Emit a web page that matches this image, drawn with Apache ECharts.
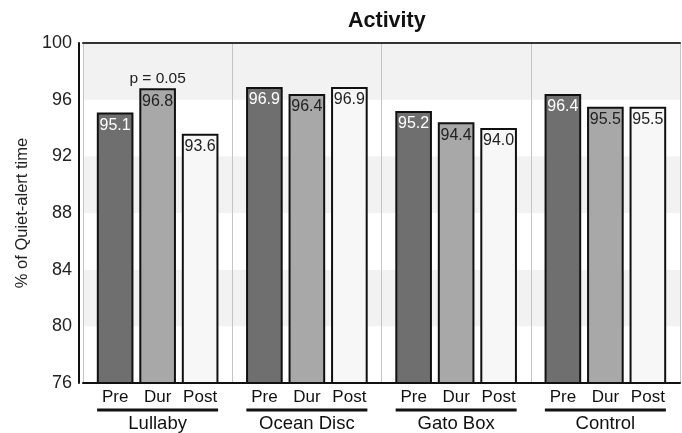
<!DOCTYPE html>
<html><head><meta charset="utf-8">
<script src="https://cdn.jsdelivr.net/npm/echarts@6/dist/echarts.min.js"></script>
<style>html,body{margin:0;padding:0;background:#fff}#c{width:682px;height:433px}</style>
</head><body><div id="c"></div>
<script>
const groups = ['Lullaby', 'Ocean Disc', 'Gato Box', 'Control'];
const phases = ['Pre', 'Dur', 'Post'];
const preValues = [95.1, 96.9, 95.2, 96.4];
const durValues = [96.8, 96.4, 94.4, 95.5];
const postValues = [93.6, 96.9, 94.0, 95.5];
const yTicks = [76, 80, 84, 88, 92, 96, 100];
const annotationText = 'p = 0.05';

const font = 'Liberation Sans, Arial, sans-serif';
const chart = echarts.init(document.getElementById('c'));
const seriesValues = [preValues, durValues, postValues];
const fills = ['#6f6f6f', '#a8a8a8', '#f7f7f7'];
const labelColors = ['#ffffff', '#222222', '#222222'];

const series = phases.map((p, i) => ({
  name: p,
  type: 'bar',
  data: seriesValues[i],
  barGap: '16%',
  barCategoryGap: '18.5%',
  itemStyle: { color: fills[i], borderColor: '#111', borderWidth: 2 },
  label: {
    show: true, position: 'insideTop', distance: 5,
    color: labelColors[i], fontSize: 16, fontFamily: font,
    formatter: d => d.value.toFixed(1)
  },
  z: 3
}));
series[1].markPoint = {
  symbol: 'rect', symbolSize: [1, 1],
  itemStyle: { color: 'rgba(0,0,0,0)' },
  label: { show: true, position: 'top', distance: 1, formatter: annotationText, color: '#222', fontSize: 15.5, fontFamily: font },
  data: [{ coord: [groups[0], durValues[0]] }]
};

const sub = { width: 42.5, align: 'center', fontSize: 17, lineHeight: 22, color: '#111', fontFamily: font };

chart.setOption({
  animation: false,
  backgroundColor: '#fff',
  title: {
    text: 'Activity', left: 343, top: 5,
    textStyle: { fontSize: 21.5, fontWeight: 'bold', color: '#111', fontFamily: font }
  },
  grid: { left: 83, right: 2, top: 43, bottom: 50, containLabel: false },
  xAxis: [{
    type: 'category', data: groups, position: 'bottom',
    axisLine: { show: true, lineStyle: { color: '#111', width: 2 } },
    axisTick: { show: false },
    splitLine: { show: true, lineStyle: { color: '#c4c4c4', width: 1 } },
    axisLabel: {
      margin: 3, interval: 0, color: '#111', fontFamily: font,
      formatter: v => '{a|' + phases[0] + '}{b|' + phases[1] + '}{c|' + phases[2] + '}\n{line| }\n{name|' + v + '}',
      rich: {
        a: sub, b: sub, c: sub,
        line: { width: 121, height: 3, lineHeight: 4, fontSize: 1, backgroundColor: '#111' },
        name: { fontSize: 18.5, lineHeight: 23, color: '#111', fontFamily: font }
      }
    }
  }, {
    type: 'category', data: groups, position: 'top',
    axisLine: { show: true, lineStyle: { color: '#333', width: 2 } },
    axisTick: { show: false }, axisLabel: { show: false }, splitLine: { show: false }
  }],
  yAxis: {
    type: 'value', min: yTicks[0], max: yTicks[yTicks.length - 1], interval: 4, offset: 4,
    name: '% of Quiet-alert time', nameLocation: 'middle', nameGap: 48,
    nameTextStyle: { fontSize: 16.5, color: '#222', fontFamily: font },
    axisLine: { show: true, lineStyle: { color: '#111', width: 2 } },
    axisTick: { show: false },
    axisLabel: { fontSize: 18, color: '#222', fontFamily: font, margin: 7 },
    splitLine: { show: false },
    splitArea: { show: true, areaStyle: { color: ['#ffffff', '#f2f2f2'] } }
  },
  series: series
});
</script></body></html>
